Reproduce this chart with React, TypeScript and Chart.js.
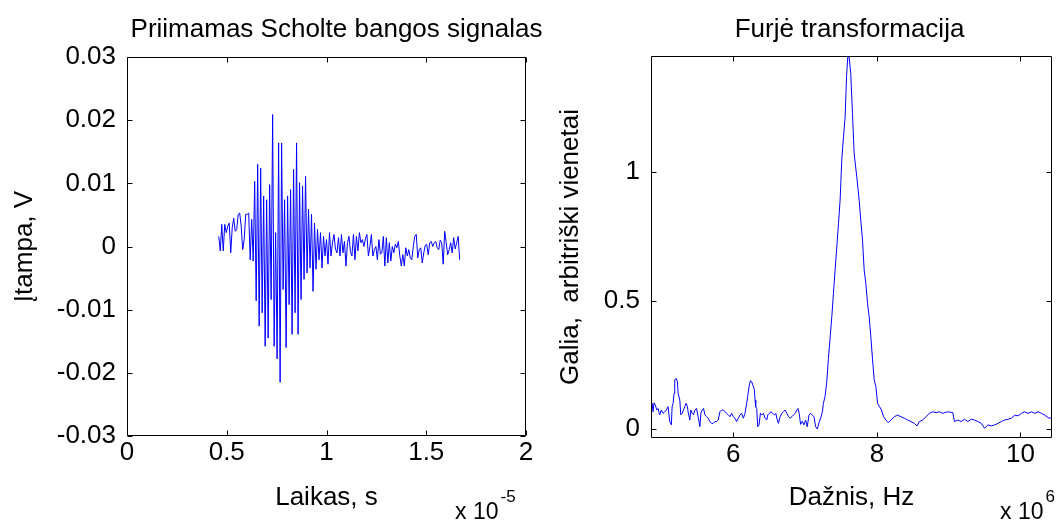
import React, { useEffect, useRef } from 'react';
import { Chart, registerables } from 'chart.js';

Chart.register(...registerables);

const FONT_FAMILY = "'Liberation Sans', Arial, sans-serif";
const FONT_SIZE = 26;

// ---------- Left panel: received Scholte wave signal ----------
const SIGNAL_T0 = 0.46; // start time, units of 1e-5 s
const SIGNAL_DT = 0.0075; // sample spacing, units of 1e-5 s
const SIGNAL_V = [
  // before the burst
  0.0016, -0.0007, 0.0035, -0.0007, 0.0035, 0.0022, 0.0032, 0.0037, -0.001, 0.003,
  0.0045, 0.0024, 0.0027, 0.0051, 0.0053, 0.0032, -0.0005, 0.0011, 0.0051, 0.0051,
  0.0053, -0.0021, 0.0043, -0.0023,
  // burst
  0.0103, -0.0086, 0.013, -0.0126, 0.0124, -0.0105, 0.008, -0.0158, 0.0074, -0.0145,
  0.0098, -0.0084, 0.0209, -0.0158, 0.0022, -0.0178, 0.0164, -0.0215, 0.0164, -0.0068,
  0.0074, -0.016, 0.008, -0.0092, 0.009, -0.0139, 0.0122, -0.0105, 0.0164, -0.0139,
  0.0101, -0.0084, 0.0096, -0.0052, 0.0111, -0.0042, 0.0059, -0.0034, 0.0051, -0.0071,
  0.0037, -0.0036, 0.0027, -0.0021, 0.0022,
  // tail
  -0.0034, 0.0016, -0.0015, 0.0011, -0.0028, 0.0022, -0.0015, 0.0006, 0.0019, -0.0004,
  -0.001, 0.0014, -0.0015, 0.0019, -0.001, 0.0008, -0.0031, 0.0006, 0.0016, -0.0008,
  -0.0015, 0.0019, -0.0021, 0.0016, -0.0007, 0.0022, 0.0006, 0.0011, 0.0, 0.0012,
  0.0019, -0.0015, 0.0, 0.0019, -0.0015, -0.0005, 0.0, -0.0021, 0.0011, -0.0012,
  -0.001, 0.0016, -0.0031, 0.0014, -0.0026, 0.0006, -0.0023, 0.0, -0.001, 0.0004,
  -0.0002, 0.0008, -0.0015, -0.0031, -0.0013, -0.0031, -0.0002, -0.0015, -0.0005, -0.0018,
  -0.0021, 0.0, 0.0016, 0.0019, -0.0018, -0.0005, -0.0002, -0.0026, -0.001, 0.0002,
  0.0003, -0.0013, 0.0006, 0.0008, 0.0, 0.0006, 0.0008, -0.0002, -0.0005, 0.001,
  0.0006, -0.0028, 0.0024, 0.0006, -0.0013, -0.0005, 0.0006, -0.001, 0.0014, -0.0004,
  0.0006, 0.0016, -0.0021,
];
const LEFT_X_TICKS = [0, 0.5, 1, 1.5, 2];
const LEFT_X_LABELS = ['0', '0.5', '1', '1.5', '2'];
const LEFT_Y_TICKS = [-0.03, -0.02, -0.01, 0, 0.01, 0.02, 0.03];
const LEFT_Y_LABELS = ['-0.03', '-0.02', '-0.01', '0', '0.01', '0.02', '0.03'];

// ---------- Right panel: Fourier transform ----------
const FREQ = [
  4.853, 4.858, 4.867, 4.881, 4.895, 4.914, 4.932, 4.951, 4.974, 4.997,
  5.021, 5.044, 5.067, 5.091, 5.114, 5.137, 5.147, 5.161, 5.175, 5.184,
  5.203, 5.221, 5.231, 5.254, 5.268, 5.287, 5.305, 5.324, 5.342, 5.361,
  5.37, 5.394, 5.408, 5.426, 5.445, 5.464, 5.487, 5.51, 5.534, 5.548,
  5.566, 5.585, 5.604, 5.627, 5.65, 5.673, 5.697, 5.72, 5.743, 5.767,
  5.79, 5.813, 5.837, 5.86, 5.883, 5.907, 5.93, 5.953, 5.977, 6.0,
  6.023, 6.046, 6.07, 6.093, 6.116, 6.14, 6.163, 6.186, 6.2, 6.219,
  6.238, 6.256, 6.28, 6.294, 6.303, 6.312, 6.326, 6.34, 6.359, 6.377,
  6.396, 6.419, 6.443, 6.466, 6.48, 6.499, 6.527, 6.545, 6.573, 6.592,
  6.606, 6.629, 6.652, 6.676, 6.699, 6.722, 6.746, 6.769, 6.792, 6.816,
  6.839, 6.862, 6.886, 6.9, 6.918, 6.937, 6.96, 6.984, 7.007, 7.03,
  7.054, 7.077, 7.1, 7.124, 7.147, 7.17, 7.2, 7.222, 7.241, 7.255,
  7.278, 7.302, 7.325, 7.348, 7.372, 7.395, 7.418, 7.442, 7.465, 7.488,
  7.511, 7.535, 7.558, 7.578, 7.595, 7.613, 7.636, 7.66, 7.683, 7.72,
  7.753, 7.776, 7.8, 7.823, 7.846, 7.87, 7.893, 7.916, 7.94, 7.963,
  7.986, 8.01, 8.037, 8.065, 8.093, 8.126, 8.158, 8.196, 8.242, 8.289,
  8.335, 8.382, 8.429, 8.475, 8.522, 8.559, 8.592, 8.638, 8.685, 8.732,
  8.778, 8.825, 8.872, 8.918, 8.965, 9.011, 9.058, 9.081, 9.128, 9.175,
  9.221, 9.268, 9.315, 9.361, 9.408, 9.454, 9.501, 9.548, 9.594, 9.641,
  9.687, 9.734, 9.781, 9.827, 9.874, 9.92, 9.967, 10.014, 10.06, 10.107,
  10.153, 10.2, 10.247, 10.293, 10.34, 10.387, 10.433, 10.45,
];
const MAGNITUDE = [
  0.152, 0.067, 0.1, 0.067, 0.102, 0.093, 0.074, 0.08, 0.055, 0.074,
  0.061, 0.067, 0.074, 0.087, 0.029, 0.016, 0.087, 0.1, 0.139, 0.191,
  0.197, 0.184, 0.139, 0.113, 0.055, 0.061, 0.074, 0.087, 0.1, 0.087,
  0.067, 0.035, 0.074, 0.061, 0.055, 0.074, 0.08, 0.048, 0.009, 0.061,
  0.074, 0.08, 0.055, 0.048, 0.042, 0.029, 0.022, 0.022, 0.029, 0.029,
  0.035, 0.067, 0.074, 0.074, 0.067, 0.061, 0.055, 0.048, 0.061, 0.048,
  0.042, 0.029, 0.042, 0.055, 0.061, 0.042, 0.061, 0.1, 0.126, 0.165,
  0.188, 0.184, 0.165, 0.152, 0.113, 0.087, 0.08, 0.009, 0.016, 0.061,
  0.055, 0.061, 0.042, 0.035, 0.055, 0.061, 0.067, 0.061, 0.055, 0.061,
  0.042, 0.022, 0.048, 0.061, 0.067, 0.074, 0.061, 0.048, 0.042, 0.048,
  0.055, 0.061, 0.074, 0.08, 0.061, 0.018, 0.03, 0.016, 0.035, 0.009,
  0.054, 0.061, 0.054, 0.048, 0.009, 0.0, 0.03, 0.048, 0.067, 0.1,
  0.126, 0.184, 0.275, 0.353, 0.437, 0.528, 0.619, 0.709, 0.8, 0.891,
  1.047, 1.138, 1.215, 1.377, 1.449, 1.449, 1.384, 1.228, 1.073, 0.982,
  0.891, 0.813, 0.735, 0.619, 0.567, 0.489, 0.437, 0.359, 0.269, 0.191,
  0.165, 0.1, 0.087, 0.074, 0.048, 0.035, 0.025, 0.035, 0.048, 0.054,
  0.048, 0.042, 0.035, 0.029, 0.022, 0.012, 0.029, 0.035, 0.048, 0.061,
  0.067, 0.064, 0.067, 0.061, 0.066, 0.066, 0.064, 0.029, 0.035, 0.029,
  0.038, 0.029, 0.038, 0.035, 0.029, 0.022, 0.003, 0.016, 0.012, 0.016,
  0.022, 0.029, 0.035, 0.038, 0.042, 0.054, 0.051, 0.061, 0.067, 0.061,
  0.067, 0.061, 0.067, 0.061, 0.054, 0.044, 0.042, 0.048,
];
const RIGHT_X_TICKS = [6, 8, 10];
const RIGHT_X_LABELS = ['6', '8', '10'];
const RIGHT_Y_TICKS = [0, 0.5, 1];
const RIGHT_Y_LABELS = ['0', '0.5', '1'];

const font = { family: FONT_FAMILY, size: FONT_SIZE, weight: 'normal' as const, lineHeight: 1.2 };
const EXP_FONT_SIZE = 23;
const SUP_FONT_SIZE = 17;

// MATLAB-like box with inward tick marks, centred title and axis multiplier label
const matlabAxes = {
  id: 'matlabAxes',
  afterDraw(chart: any, _args: any, opts: any) {
    const { ctx, chartArea: a, scales } = chart;
    ctx.save();
    ctx.strokeStyle = '#000';
    ctx.lineWidth = 1;
    const L = Math.round(a.left) + 0.5;
    const R = Math.round(a.right) - 0.5;
    const T = Math.round(a.top) + 0.5;
    const B = Math.round(a.bottom) - 0.5;
    const len = 5;
    ctx.beginPath();
    ctx.rect(L, T, R - L, B - T);
    for (const t of scales.x.ticks) {
      const px = Math.round(scales.x.getPixelForValue(t.value)) + 0.5;
      ctx.moveTo(px, B);
      ctx.lineTo(px, B - len);
      ctx.moveTo(px, T);
      ctx.lineTo(px, T + len);
    }
    for (const t of scales.y.ticks) {
      const py = Math.round(scales.y.getPixelForValue(t.value)) + 0.5;
      ctx.moveTo(L, py);
      ctx.lineTo(L + len, py);
      ctx.moveTo(R, py);
      ctx.lineTo(R - len, py);
    }
    ctx.stroke();

    ctx.fillStyle = '#000';
    // title
    ctx.font = `${FONT_SIZE}px ${FONT_FAMILY}`;
    ctx.textAlign = 'center';
    ctx.textBaseline = 'middle';
    ctx.fillText(opts.title, (a.left + a.right) / 2 + opts.titleDx, opts.titleY);

    // multiplier label
    ctx.textBaseline = 'alphabetic';
    ctx.textAlign = 'left';
    ctx.font = `${EXP_FONT_SIZE}px ${FONT_FAMILY}`;
    const x0 = a.right + opts.expDx;
    const yb = opts.expBaseline;
    ctx.fillText('x 10', x0, yb);
    const w = ctx.measureText('x 10').width;
    ctx.font = `${SUP_FONT_SIZE}px ${FONT_FAMILY}`;
    ctx.fillText(opts.exponent, x0 + w + 2, yb - 17);
    ctx.restore();
  },
};

function makeConfig(p: any) {
  return {
    type: 'line',
    data: {
      datasets: [
        {
          data: p.points,
          borderColor: '#0000ff',
          borderWidth: 1,
          pointRadius: 0,
          tension: 0,
          fill: false,
        },
      ],
    },
    plugins: [matlabAxes],
    options: {
      animation: false,
      responsive: false,
      devicePixelRatio: 1,
      events: [],
      layout: { padding: { left: 0, right: p.padRight, top: p.areaTop, bottom: 0 } },
      plugins: {
        legend: { display: false },
        tooltip: { enabled: false },
        title: { display: false },
        matlabAxes: p.deco,
      },
      scales: {
        x: {
          type: 'linear',
          min: p.xMin,
          max: p.xMax,
          afterBuildTicks: (s: any) => {
            s.ticks = p.xTicks.map((v: number) => ({ value: v }));
          },
          afterFit: (s: any) => {
            s.height = p.xAxisHeight;
          },
          grid: { display: false, drawTicks: false },
          border: { display: false },
          ticks: {
            color: '#000',
            font,
            padding: 1,
            autoSkip: false,
            maxRotation: 0,
            callback: (_v: any, i: number) => p.xLabels[i],
          },
          title: { display: true, text: p.xTitle, color: '#000', font, padding: { top: 0, bottom: 11 } },
        },
        y: {
          type: 'linear',
          min: p.yMin,
          max: p.yMax,
          afterBuildTicks: (s: any) => {
            s.ticks = p.yTicks.map((v: number) => ({ value: v }));
          },
          afterFit: (s: any) => {
            s.width = p.yAxisWidth;
          },
          grid: { display: false, drawTicks: false },
          border: { display: false },
          ticks: {
            color: '#000',
            font,
            padding: 11,
            autoSkip: false,
            callback: (_v: any, i: number) => p.yLabels[i],
          },
          title: { display: true, text: p.yTitle, color: '#000', font, padding: { top: p.yTitlePad, bottom: 0 } },
        },
      },
    },
  };
}

function ChartCanvas({ config, left, width, height }: any) {
  const ref = useRef<HTMLCanvasElement>(null);
  useEffect(() => {
    const chart = new Chart(ref.current as HTMLCanvasElement, config);
    return () => chart.destroy();
  }, []);
  return (
    <canvas
      ref={ref}
      width={width}
      height={height}
      style={{ position: 'absolute', left, top: 0, width, height }}
    />
  );
}

export default function App() {
  const signalPoints = SIGNAL_V.map((v, i) => ({ x: SIGNAL_T0 + i * SIGNAL_DT, y: v }));
  const spectrumPoints = FREQ.map((f, i) => ({ x: f, y: MAGNITUDE[i] }));

  const leftConfig = makeConfig({
    points: signalPoints,
    xTitle: 'Laikas, s',
    yTitle: 'Įtampa, V',
    xMin: 0,
    xMax: 2,
    yMin: -0.03,
    yMax: 0.03,
    xTicks: LEFT_X_TICKS,
    xLabels: LEFT_X_LABELS,
    yTicks: LEFT_Y_TICKS,
    yLabels: LEFT_Y_LABELS,
    padRight: 560 - 526,
    areaTop: 57,
    xAxisHeight: 524 - 436,
    yAxisWidth: 127,
    yTitlePad: 9,
    deco: {
      title: 'Priimamas Scholte bangos signalas',
      titleDx: 10,
      titleY: 30,
      exponent: '-5',
      expDx: -71,
      expBaseline: 519,
    },
  });

  const rightConfig = makeConfig({
    points: spectrumPoints,
    xTitle: 'Dažnis, Hz',
    yTitle: 'Galia,  arbitriški vienetai',
    xMin: 4.853,
    xMax: 10.44,
    yMin: -0.035,
    yMax: 1.452,
    xTicks: RIGHT_X_TICKS,
    xLabels: RIGHT_X_LABELS,
    yTicks: RIGHT_Y_TICKS,
    yLabels: RIGHT_Y_LABELS,
    padRight: 516 - 512,
    areaTop: 56,
    xAxisHeight: 524 - 438,
    yAxisWidth: 111,
    yTitlePad: 15,
    deco: {
      title: 'Furjė transformacija',
      titleDx: -2,
      titleY: 30,
      exponent: '6',
      expDx: -52,
      expBaseline: 519,
    },
  });

  return (
    <div style={{ position: 'absolute', left: 0, top: 0, width: 1056, height: 524, background: '#fff', overflow: 'hidden' }}>
      <ChartCanvas config={leftConfig} left={0} width={560} height={524} />
      <ChartCanvas config={rightConfig} left={540} width={516} height={524} />
    </div>
  );
}
